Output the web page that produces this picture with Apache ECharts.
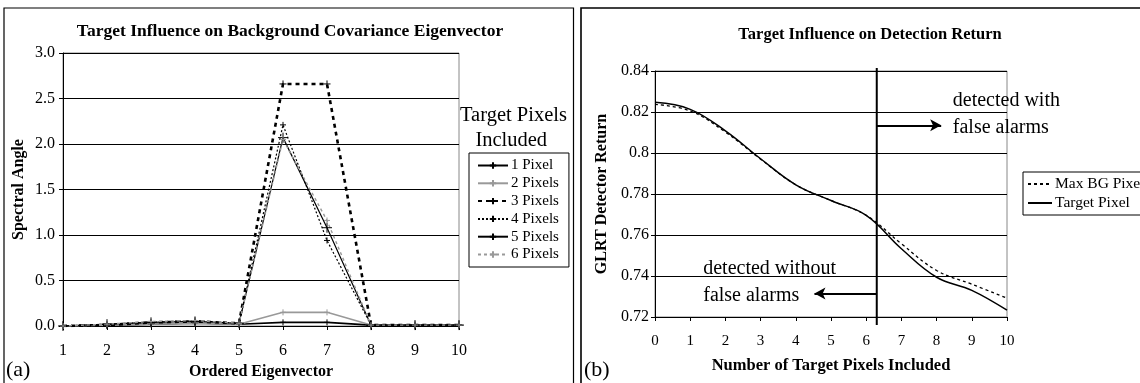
<!DOCTYPE html>
<html>
<head>
<meta charset="utf-8">
<script src="https://cdn.jsdelivr.net/npm/echarts@6/dist/echarts.min.js"></script>
<style>
  html, body { margin: 0; padding: 0; background: #fff; }
  #chart { width: 1140px; height: 383px; }
</style>
</head>
<body>
<div id="chart"></div>
<script>
// (a) spectral angle of each ordered eigenvector, per number of target pixels
const eigenCategories = ['1', '2', '3', '4', '5', '6', '7', '8', '9', '10'];
const pixel1 = [0, 0.01, 0.02, 0.03, 0.02, 0.04, 0.04, 0.01, 0.01, 0.01];
const pixel2 = [0, 0.01, 0.02, 0.03, 0.02, 0.15, 0.15, 0.01, 0.01, 0.01];
const pixel3 = [0, 0.01, 0.04, 0.05, 0.03, 2.66, 2.66, 0.01, 0.01, 0.01];
const pixel4 = [0, 0.02, 0.04, 0.06, 0.03, 2.21, 0.94, 0.01, 0.01, 0.01];
const pixel5 = [0, 0.02, 0.04, 0.05, 0.03, 2.07, 1.08, 0.01, 0.01, 0.01];
const pixel6 = [0, 0.02, 0.05, 0.06, 0.03, 2.05, 1.16, 0.01, 0.01, 0.01];

// (b) GLRT detector return versus number of target pixels included
const targetCounts = [0, 1, 2, 3, 4, 5, 6, 7, 8, 9, 10];
const maxBgReturn  = [0.8237, 0.8205, 0.8102, 0.7970, 0.7845, 0.7768, 0.7696, 0.7557, 0.7427, 0.7360, 0.7292];
const targetReturn = [0.8247, 0.8213, 0.8108, 0.7972, 0.7845, 0.7768, 0.7696, 0.7533, 0.7394, 0.7330, 0.7233];
const detectionThreshold = 6.3;

const serif = 'Liberation Serif';
const plus = 'path://M0,5L10,5M5,0L5,10';

function pixelSeries(name, data, color, width, dash, size) {
  return {
    name: name, type: 'line', xAxisIndex: 0, yAxisIndex: 0, data: data,
    symbol: plus, symbolSize: size, showSymbol: true,
    itemStyle: { color: 'none', borderColor: color, borderWidth: 1 },
    lineStyle: { color: color, width: width, type: dash },
    emphasis: { disabled: true }, animation: false
  };
}

const chart = echarts.init(document.getElementById('chart'), null, { renderer: 'canvas' });

const arrowStart = { symbol: 'none', lineStyle: { color: '#000', width: 2, type: 'solid' } };

const option = {
  animation: false,
  backgroundColor: '#fff',
  title: [
    { text: 'Target Influence on Background Covariance Eigenvector', left: 285, top: 17, textAlign: 'center',
      textStyle: { fontFamily: serif, fontWeight: 'bold', fontSize: 17.5, color: '#000' } },
    { text: 'Target Influence on Detection Return', left: 865, top: 21, textAlign: 'center',
      textStyle: { fontFamily: serif, fontWeight: 'bold', fontSize: 16.5, color: '#000' } }
  ],
  grid: [
    { left: 63, right: 681, top: 53, bottom: 57, containLabel: false, outerBoundsMode: 'none',
      show: true, borderColor: '#888', borderWidth: 1 },
    { left: 655, right: 133, top: 71, bottom: 66, containLabel: false, outerBoundsMode: 'none',
      show: true, borderColor: '#888', borderWidth: 1 }
  ],
  legend: [
    {
      data: ['1 Pixel', '2 Pixels', '3 Pixels', '4 Pixels', '5 Pixels', '6 Pixels'],
      orient: 'vertical', left: 469, top: 153, itemWidth: 30, itemHeight: 8, itemGap: 2.8,
      padding: [5, 10, 5, 8], borderColor: '#000', borderWidth: 1,
      textStyle: { fontFamily: serif, fontSize: 15, color: '#000', padding: [0, 0, 0, -2] },
      selectedMode: false
    },
    {
      data: ['Max BG Pixel', 'Target Pixel'],
      orient: 'vertical', left: 1023, top: 172, itemWidth: 24, itemHeight: 8, itemGap: 3,
      padding: [4, 30, 4, 4], borderColor: '#000', borderWidth: 1,
      itemStyle: { opacity: 0 },
      textStyle: { fontFamily: serif, fontSize: 15.5, color: '#000', padding: [0, 0, 0, -2] },
      selectedMode: false
    }
  ],
  xAxis: [
    {
      type: 'category', gridIndex: 0, data: eigenCategories, boundaryGap: false,
      name: 'Ordered Eigenvector', nameLocation: 'middle', nameGap: 38,
      nameTextStyle: { fontFamily: serif, fontWeight: 'bold', fontSize: 16, color: '#000' },
      axisLine: { lineStyle: { color: '#000', width: 1 } },
      axisTick: { show: true, length: 4, lineStyle: { color: '#000' } },
      axisLabel: { fontFamily: serif, fontSize: 16, color: '#000', margin: 17 },
      splitLine: { show: false }
    },
    {
      type: 'value', gridIndex: 1, min: 0, max: 10, interval: 1,
      name: 'Number of Target Pixels Included', nameLocation: 'middle', nameGap: 40,
      nameTextStyle: { fontFamily: serif, fontWeight: 'bold', fontSize: 16.5, color: '#000' },
      axisLine: { onZero: false, lineStyle: { color: '#000', width: 1 } },
      axisTick: { show: true, length: 4, lineStyle: { color: '#000' } },
      axisLabel: { fontFamily: serif, fontSize: 15, color: '#000', margin: 17 },
      splitLine: { show: false }
    }
  ],
  yAxis: [
    {
      type: 'value', gridIndex: 0, min: 0, max: 3, interval: 0.5,
      name: 'Spectral Angle', nameLocation: 'middle', nameGap: 36, nameRotate: 90,
      nameTextStyle: { fontFamily: serif, fontWeight: 'bold', fontSize: 16, color: '#000' },
      axisLine: { show: true, lineStyle: { color: '#000', width: 1 } },
      axisTick: { show: true, length: 4, lineStyle: { color: '#000' } },
      axisLabel: { fontFamily: serif, fontSize: 16, color: '#000', margin: 8, formatter: v => v.toFixed(1) },
      splitLine: { show: true, lineStyle: { color: '#000', width: 1 } }
    },
    {
      type: 'value', gridIndex: 1, min: 0.72, max: 0.84, interval: 0.02,
      name: 'GLRT Detector Return', nameLocation: 'middle', nameGap: 45, nameRotate: 90,
      nameTextStyle: { fontFamily: serif, fontWeight: 'bold', fontSize: 16, color: '#000' },
      axisLine: { show: true, lineStyle: { color: '#000', width: 1 } },
      axisTick: { show: true, length: 4, lineStyle: { color: '#000' } },
      axisLabel: { fontFamily: serif, fontSize: 16, color: '#000', margin: 6,
                   formatter: v => String(Math.round(v * 100) / 100) },
      splitLine: { show: true, lineStyle: { color: '#000', width: 1 } }
    }
  ],
  series: [
    pixelSeries('1 Pixel',  pixel1, '#000', 1.6, 'solid', 6),
    pixelSeries('2 Pixels', pixel2, '#999', 1.6, 'solid', 6),
    pixelSeries('3 Pixels', pixel3, '#000', 2.6, [4, 4], 7),
    pixelSeries('4 Pixels', pixel4, '#000', 1.2, [2, 2], 6),
    pixelSeries('5 Pixels', pixel5, '#000', 1.2, 'solid', 10),
    pixelSeries('6 Pixels', pixel6, '#999', 1.4, [3, 3], 6),
    {
      name: 'Max BG Pixel', type: 'line', xAxisIndex: 1, yAxisIndex: 1,
      data: targetCounts.map((x, i) => [x, maxBgReturn[i]]),
      smooth: 0.4, showSymbol: false, symbol: 'circle',
      lineStyle: { color: '#000', width: 1.3, type: [3, 3] },
      itemStyle: { color: '#000' }
    },
    {
      name: 'Target Pixel', type: 'line', xAxisIndex: 1, yAxisIndex: 1,
      data: targetCounts.map((x, i) => [x, targetReturn[i]]),
      smooth: 0.4, showSymbol: false, symbol: 'circle',
      lineStyle: { color: '#000', width: 1.5 },
      itemStyle: { color: '#000' },
      markLine: {
        silent: true, animation: false, label: { show: false },
        data: [
          [ Object.assign({ coord: [detectionThreshold, 0.8135] }, arrowStart),
            { coord: [8.13, 0.8135], symbol: 'arrow', symbolSize: [9, 11] } ],
          [ Object.assign({ coord: [detectionThreshold, 0.7315] }, arrowStart),
            { coord: [4.53, 0.7315], symbol: 'arrow', symbolSize: [9, 11] } ]
        ]
      }
    }
  ]
};

chart.setOption(option);

// Annotations placed through the detection-return scale
const toPx = p => chart.convertToPixel({ xAxisIndex: 1, yAxisIndex: 1 }, p);
const lineTop = toPx([detectionThreshold, 0.84]);
const lineBottom = toPx([detectionThreshold, 0.72]);
const withPos = toPx([8.46, 0.8191]);
const withoutPos = toPx([1.37, 0.7370]);
const noteStyle = { fontFamily: serif, fontSize: 20, fill: '#000', lineHeight: 27 };

chart.setOption({
  graphic: [
    { type: 'rect', shape: { x: 4, y: 8, width: 569.5, height: 400 },
      style: { fill: 'none', stroke: '#000', lineWidth: 1.2 }, silent: true },
    { type: 'rect', shape: { x: 581, y: 8, width: 600, height: 400 },
      style: { fill: 'none', stroke: '#000', lineWidth: 1.6 }, silent: true },
    { type: 'line', silent: true, z: 10,
      shape: { x1: lineTop[0], y1: lineTop[1] - 3, x2: lineBottom[0], y2: lineBottom[1] + 8 },
      style: { stroke: '#000', lineWidth: 2 } },
    { type: 'text', left: 6, top: 359,
      style: { text: '(a)', fontFamily: serif, fontSize: 22, fill: '#000' } },
    { type: 'text', left: 584, top: 359,
      style: { text: '(b)', fontFamily: serif, fontSize: 22, fill: '#000' } },
    { type: 'text', left: 460, top: 103,
      style: { text: 'Target Pixels\n   Included', fontFamily: serif, fontSize: 20.5, fill: '#000', lineHeight: 25 } },
    { type: 'text', x: withPos[0], y: withPos[1],
      style: Object.assign({ text: 'detected with\nfalse alarms', textVerticalAlign: 'middle', textAlign: 'left' }, noteStyle) },
    { type: 'text', x: withoutPos[0], y: withoutPos[1],
      style: Object.assign({ text: 'detected without\nfalse alarms', textVerticalAlign: 'middle', textAlign: 'left' }, noteStyle) }
  ]
});
</script>
</body>
</html>
